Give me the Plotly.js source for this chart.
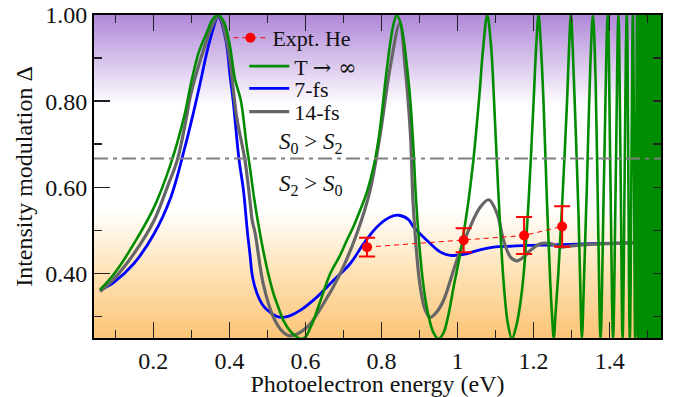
<!DOCTYPE html>
<html>
<head>
<meta charset="utf-8">
<script src="https://cdn.plot.ly/plotly-3.0.1.min.js"></script>
<style>html,body{margin:0;padding:0;background:#fff;}#chart{width:673px;height:397px;}</style>
</head>
<body>
<div id="chart"></div>
<script>
// ---- axis ranges / reference level ----
const xRange = [0.044, 1.535];
const yRange = [0.25, 1.0];
const threshold = 0.667;

// ---- background gradient levels (value = y) ----
const bgX = [-1, 3];
const bgY = [0.20, 0.25, 0.40, 0.55, 0.79, 0.90, 1.00, 1.05];

// ---- T -> infinity (green) ----
const greenX = [0.060,0.097,0.149,0.202,0.246,0.281,0.300,0.320,0.341,0.356,0.371,0.385,0.400,0.415,0.430,0.445,0.455,0.465,0.477,0.489,0.502,0.516,0.530,0.542,0.560,0.575,0.588,0.600,0.612,0.621,0.640,0.665,0.690,0.709,0.727,0.744,0.762,0.779,0.792,0.802,0.812,0.823,0.832,0.840,0.849,0.858,0.867,0.876,0.884,0.891,0.902,0.912,0.924,0.937,0.950,0.963,0.975,0.990,1.007,1.019,1.029,1.040,1.048,1.058,1.067,1.078,1.088,1.096,1.104,1.113,1.122,1.132,1.143,1.155,1.165,1.174,1.187,1.200,1.207,1.213,1.219,1.226,1.235,1.244,1.248,1.253,1.258,1.265,1.275,1.288,1.293,1.298,1.303,1.308,1.318,1.322,1.327,1.333,1.340,1.349,1.356,1.363,1.370,1.376,1.385,1.395,1.402,1.409,1.416,1.423,1.429,1.434,1.445,1.453,1.461,1.467,1.472,1.4745,1.477,1.4795,1.482,1.4845,1.487,1.4895,1.492,1.4945,1.497,1.4995,1.502,1.5045,1.507,1.5095,1.512,1.5145,1.517,1.5195,1.522,1.5245,1.527,1.5295,1.532,1.5345,1.537];
const greenY = [0.362,0.399,0.469,0.554,0.655,0.764,0.845,0.915,0.960,0.990,1.000,0.985,0.935,0.850,0.802,0.700,0.640,0.575,0.510,0.453,0.400,0.353,0.318,0.291,0.266,0.254,0.248,0.252,0.272,0.290,0.338,0.399,0.440,0.477,0.510,0.547,0.590,0.647,0.710,0.780,0.860,0.935,0.980,1.000,0.985,0.945,0.880,0.800,0.690,0.570,0.440,0.360,0.300,0.262,0.248,0.262,0.300,0.370,0.446,0.510,0.570,0.650,0.720,0.820,0.920,1.000,0.930,0.800,0.647,0.493,0.370,0.285,0.248,0.280,0.330,0.400,0.570,0.800,0.930,1.000,0.930,0.800,0.570,0.376,0.310,0.250,0.310,0.400,0.560,0.800,0.920,1.000,0.920,0.800,0.540,0.400,0.250,0.400,0.600,0.880,1.000,0.850,0.500,0.250,0.620,1.000,0.620,0.250,0.620,1.000,0.620,0.250,1.000,0.250,1.000,0.250,1.000,0.250,1.000,0.250,1.000,0.250,1.000,0.250,1.000,0.250,1.000,0.250,1.000,0.250,1.000,0.250,1.000,0.250,1.000,0.250,1.000,0.250,1.000,0.250,1.000,0.250,1.000];

// ---- 7-fs (blue) ----
const blueX = [0.060,0.097,0.149,0.202,0.246,0.281,0.307,0.323,0.349,0.371,0.390,0.402,0.410,0.425,0.437,0.447,0.454,0.461,0.472,0.485,0.498,0.525,0.540,0.560,0.586,0.630,0.674,0.718,0.753,0.788,0.823,0.845,0.871,0.884,0.919,0.954,0.981,1.016,1.051,1.095,1.139,1.183,1.250,1.350,1.450,1.535];
const blueY = [0.361,0.380,0.423,0.492,0.577,0.686,0.779,0.841,0.942,0.995,0.945,0.857,0.800,0.667,0.593,0.500,0.445,0.391,0.355,0.330,0.316,0.300,0.298,0.302,0.314,0.345,0.384,0.423,0.469,0.508,0.531,0.535,0.525,0.508,0.477,0.450,0.442,0.444,0.453,0.461,0.463,0.465,0.466,0.469,0.471,0.473];

// ---- 14-fs (grey) ----
const greyX = [0.060,0.097,0.149,0.202,0.237,0.263,0.289,0.297,0.332,0.355,0.372,0.395,0.419,0.441,0.454,0.460,0.468,0.489,0.516,0.540,0.560,0.604,0.647,0.691,0.735,0.770,0.797,0.823,0.848,0.862,0.876,0.884,0.902,0.915,0.928,0.945,0.963,0.998,1.033,1.060,1.082,1.104,1.121,1.139,1.156,1.174,1.191,1.218,1.244,1.270,1.300,1.340,1.400,1.460,1.535];
const greyY = [0.358,0.388,0.446,0.523,0.601,0.663,0.771,0.810,0.919,0.975,0.998,0.930,0.764,0.663,0.570,0.523,0.492,0.376,0.298,0.265,0.255,0.275,0.329,0.399,0.492,0.593,0.725,0.880,0.980,0.880,0.725,0.550,0.368,0.315,0.298,0.310,0.337,0.430,0.508,0.554,0.571,0.539,0.477,0.438,0.429,0.438,0.453,0.469,0.469,0.461,0.464,0.467,0.469,0.471,0.473];

// ---- experiment (red) ----
const exptX = [0.762, 1.016, 1.175, 1.275];
const exptY = [0.461, 0.477, 0.488, 0.509];
const exptErr = [0.022, 0.028, 0.043, 0.047];

// ---- labels ----
const xTitle = 'Photoelectron energy (eV)';
const yTitle = 'Intensity modulation Δ';
const names = ['Expt. He', 'T → ∞', '7-fs', '14-fs'];
const regionLabels = ['<i>S</i><sub>0</sub> &gt; <i>S</i><sub>2</sub>', '<i>S</i><sub>2</sub> &gt; <i>S</i><sub>0</sub>'];
const regionLabelY = [0.702, 0.605];
const regionLabelX = 0.614;

const FONT = '"Liberation Serif", "DejaVu Serif", serif';
const SYM = '"DejaVu Serif", serif';

// green legend label: render arrow and infinity in a font that has them
const greenLabel = names[1].replace('→ ∞', '<span style="font-family:' + SYM.replace(/"/g, "'") + '">→ ∞</span>');

const bgZ = bgY.map(v => [v, v]);

const traces = [
  {type:'heatmap', x:bgX, y:bgY, z:bgZ, zmin:yRange[0], zmax:yRange[1], zsmooth:'best', showscale:false, hoverinfo:'skip',
   colorscale:[[0,'rgb(252,196,118)'],[0.2,'rgb(254,226,180)'],[0.4,'rgb(255,255,255)'],[0.72,'rgb(255,255,255)'],[1,'rgb(176,136,216)']]},
  {type:'scatter', mode:'lines', x:xRange, y:[threshold, threshold], yaxis:'y2', showlegend:false, hoverinfo:'skip',
   line:{color:'rgb(128,128,128)', width:2, dash:'14px,5px,4px,5px'}},
  {type:'scatter', mode:'lines', x:blueX, y:blueY, name:names[2], legend:'legend3',
   line:{color:'#0000ff', width:2.8, shape:'spline'}},
  {type:'scatter', mode:'lines', x:greyX, y:greyY, name:names[3], legend:'legend4',
   line:{color:'#666666', width:3.2, shape:'spline'}},
  {type:'scatter', mode:'lines', x:greenX, y:greenY, name:greenLabel, legend:'legend',
   line:{color:'#008c00', width:2.6, shape:'spline', simplify:false}},
  {type:'scatter', mode:'lines+markers', x:exptX, y:exptY, name:names[0], legend:'legend2',
   line:{color:'#ff0000', width:1, dash:'5px,4px'},
   marker:{color:'#ff0000', size:10},
   error_y:{type:'data', array:exptErr, visible:true, color:'#ff0000', thickness:2, width:8}}
];

const legendBase = (x, y) => ({x:x, y:y, xanchor:'left', yanchor:'middle', bgcolor:'rgba(0,0,0,0)', borderwidth:0,
  font:{family:FONT, size:22, color:'#111'}, itemwidth:40});

const axisCommon = {
  showgrid:false, zeroline:false, showline:true, linecolor:'#000', linewidth:2,
  ticks:'inside', ticklen:16, tickwidth:1.5, tickcolor:'#222',
  tickfont:{family:FONT, size:24, color:'#111'}
};

const layout = {
  width:673, height:397,
  margin:{l:94, r:12, t:15, b:59},
  paper_bgcolor:'#fff', plot_bgcolor:'#fff',
  font:{family:FONT, size:23, color:'#111'},
  xaxis: Object.assign({}, axisCommon, {
    range:xRange, tick0:0, dtick:0.2, mirror:'ticks',
    minor:{dtick:0.1, ticklen:8, ticks:'inside', tickwidth:1.5, tickcolor:'#222'},
    title:{text:xTitle, font:{family:FONT, size:24, color:'#111'}, standoff:5}
  }),
  yaxis: Object.assign({}, axisCommon, {
    range:yRange, tick0:0, dtick:0.2, tickformat:'.2f', mirror:true,
    minor:{dtick:0.1, ticklen:8, ticks:'inside', tickwidth:1.5, tickcolor:'#222'},
    title:{text:yTitle, font:{family:FONT, size:24, color:'#111'}, standoff:6}
  }),
  yaxis2: {overlaying:'y', side:'right', range:yRange, tick0:0, dtick:0.1, ticks:'inside', ticklen:8, tickwidth:1.5, tickcolor:'#222',
    showticklabels:false, showgrid:false, zeroline:false, showline:false},
  legend: legendBase(0.265, 0.841),
  legend2: Object.assign(legendBase(0.237, 0.929), {itemwidth:34}),
  legend3: legendBase(0.265, 0.772),
  legend4: legendBase(0.265, 0.700),
  annotations: regionLabels.map((t, i) => ({x:regionLabelX, y:regionLabelY[i], xref:'x', yref:'y', text:t, showarrow:false,
    font:{family:FONT, size:23, color:'#111'}}))
};

Plotly.newPlot('chart', traces, layout, {staticPlot:true, displayModeBar:false});
</script>
</body>
</html>
